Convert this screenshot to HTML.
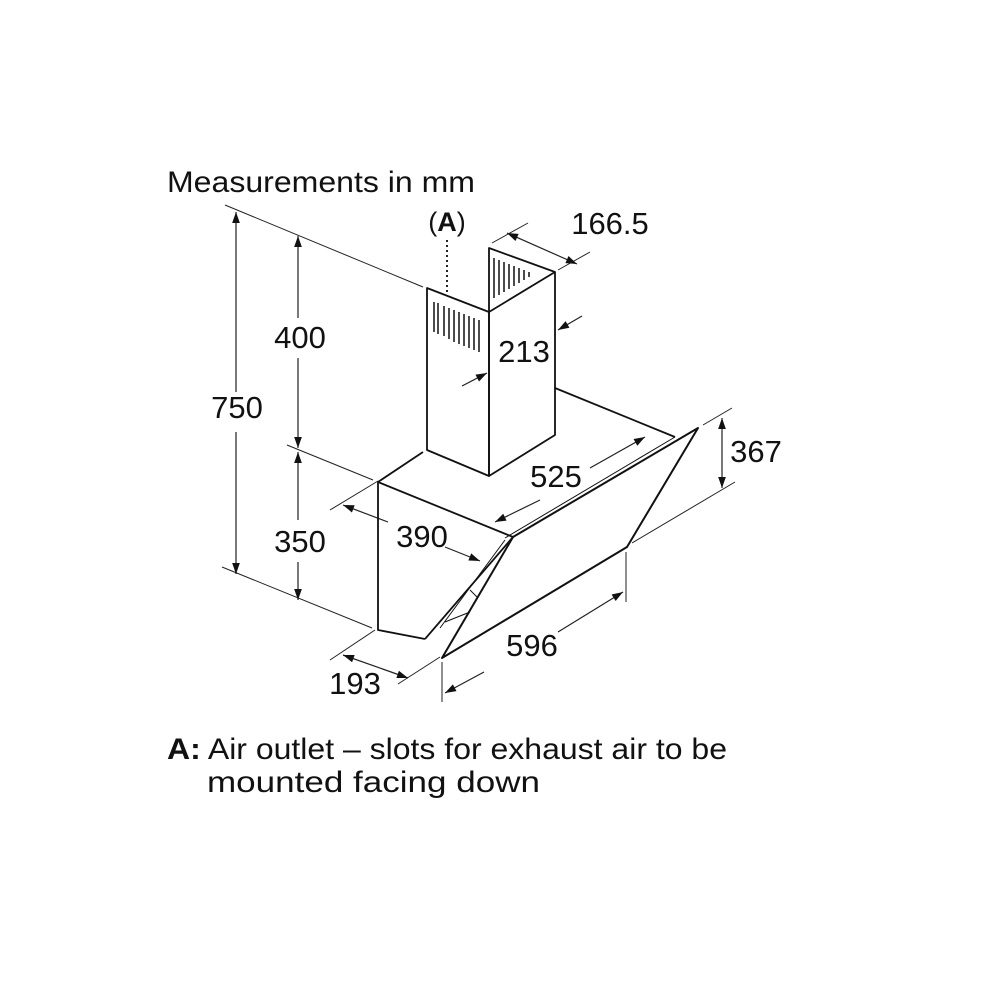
<!DOCTYPE html>
<html><head><meta charset="utf-8"><style>
html,body{margin:0;padding:0;background:#fff;}
svg{display:block;}
text{font-family:"Liberation Sans",Arial,sans-serif;fill:#111;}
</style></head><body>
<svg width="1000" height="1000" viewBox="0 0 1000 1000" xmlns="http://www.w3.org/2000/svg">
<defs>
<marker id="ar" viewBox="0 0 10 10" refX="10" refY="5" markerWidth="16" markerHeight="11" orient="auto-start-reverse" markerUnits="userSpaceOnUse">
<path d="M0,1.5 L10,5 L0,8.5 z" fill="#111"/></marker>
</defs>
<text x="167" y="192" font-size="30" textLength="308" lengthAdjust="spacingAndGlyphs">Measurements in mm</text>

<g stroke="#222" stroke-width="1" fill="none">
<line x1="225" y1="205" x2="423" y2="287"/>
<line x1="287" y1="445" x2="373" y2="480"/>
<line x1="222" y1="567" x2="372" y2="628"/>
<line x1="330" y1="510" x2="378" y2="481"/>
<line x1="330" y1="660" x2="375" y2="630"/>
<line x1="398" y1="684" x2="440" y2="657"/>
<line x1="442" y1="662" x2="442" y2="702"/>
<line x1="626" y1="552" x2="626" y2="602"/>
<line x1="703" y1="425" x2="732" y2="408"/>
<line x1="632" y1="543" x2="735" y2="482"/>
<line x1="492" y1="243" x2="528" y2="223"/>
<line x1="558" y1="270" x2="590" y2="252"/>
</g>
<g stroke="#222" stroke-width="1.2" fill="none">
<line x1="236" y1="212" x2="236" y2="392" marker-start="url(#ar)"/>
<line x1="236" y1="432" x2="236" y2="574" marker-end="url(#ar)"/>
<line x1="298" y1="236" x2="298" y2="318" marker-start="url(#ar)"/>
<line x1="298" y1="358" x2="298" y2="448" marker-end="url(#ar)"/>
<line x1="298" y1="452" x2="298" y2="520" marker-start="url(#ar)"/>
<line x1="298" y1="562" x2="298" y2="600" marker-end="url(#ar)"/>
<line x1="722" y1="418" x2="722" y2="488" marker-start="url(#ar)" marker-end="url(#ar)"/>
<line x1="507" y1="233" x2="577" y2="264" marker-start="url(#ar)" marker-end="url(#ar)"/>
<line x1="343" y1="655" x2="408" y2="678" marker-start="url(#ar)" marker-end="url(#ar)"/>
<line x1="445" y1="693" x2="484" y2="672" marker-start="url(#ar)"/>
<line x1="558" y1="632" x2="623" y2="592" marker-end="url(#ar)"/>
<line x1="343" y1="505" x2="388" y2="522" marker-start="url(#ar)"/>
<line x1="445" y1="547" x2="480" y2="561" marker-end="url(#ar)"/>
<line x1="590" y1="468" x2="645" y2="437" marker-end="url(#ar)"/>
<line x1="495" y1="522" x2="540" y2="500" marker-start="url(#ar)"/>
<line x1="582" y1="316" x2="558" y2="330" marker-end="url(#ar)"/>
<line x1="462" y1="386" x2="487" y2="373" marker-end="url(#ar)"/>
<line x1="447" y1="240" x2="447" y2="296" stroke-dasharray="2,3" stroke-width="2"/>
</g>

<g stroke="#111" stroke-width="1.8" fill="none" stroke-linejoin="round">
<polygon points="427,288 489,312 489,476 427,450"/>
<polygon points="489,248 555,272 555,435 489,476 489,312"/>
<line x1="489" y1="312" x2="555" y2="272"/>
<polyline points="423,452 378,482 378,630 425,639"/>
<line x1="378" y1="482" x2="513" y2="537"/>
<polyline points="555,388 675,437"/>
<polygon points="513,537 698,428 627,547 442,658" stroke-width="2"/>
<line x1="513" y1="537" x2="425" y2="639"/>
<line x1="505" y1="538" x2="675" y2="437" stroke-width="1"/>
<line x1="505" y1="540" x2="440" y2="628" stroke-width="1"/>
<line x1="470" y1="590" x2="478" y2="598" stroke-width="1"/>
<line x1="445" y1="622" x2="470" y2="612" stroke-width="1"/>
</g>
<g stroke="#111" stroke-width="1.5">
<line x1="434" y1="302" x2="434" y2="332"/><line x1="438" y1="303" x2="438" y2="334"/>
<line x1="444" y1="306" x2="444" y2="336"/><line x1="449" y1="308" x2="449" y2="339"/>
<line x1="454" y1="310" x2="454" y2="342"/><line x1="459" y1="312" x2="459" y2="344"/>
<line x1="464" y1="314" x2="464" y2="346"/><line x1="469" y1="316" x2="469" y2="348"/>
<line x1="474" y1="318" x2="474" y2="350"/><line x1="479" y1="320" x2="479" y2="352"/>
<line x1="494" y1="258" x2="494" y2="298"/><line x1="499" y1="260" x2="499" y2="295"/>
<line x1="504" y1="262" x2="504" y2="292"/><line x1="509" y1="264" x2="509" y2="289"/>
<line x1="514" y1="266" x2="514" y2="286"/><line x1="519" y1="268" x2="519" y2="283"/>
<line x1="524" y1="270" x2="524" y2="280"/><line x1="529" y1="272" x2="529" y2="277"/>
</g>

<g font-size="31" text-anchor="middle">
<text x="447" y="231" font-size="27">(<tspan font-weight="bold">A</tspan>)</text>
<text x="610" y="234">166.5</text>
<text x="300" y="348">400</text>
<text x="524" y="362">213</text>
<text x="237" y="418">750</text>
<text x="756" y="462">367</text>
<text x="556" y="487">525</text>
<text x="422" y="547">390</text>
<text x="300" y="552">350</text>
<text x="532" y="656">596</text>
<text x="355" y="694">193</text>
</g>
<g font-size="30">
<text x="167" y="759" textLength="560" lengthAdjust="spacingAndGlyphs"><tspan font-weight="bold">A:</tspan> Air outlet – slots for exhaust air to be</text>
<text x="207" y="792" textLength="333" lengthAdjust="spacingAndGlyphs">mounted facing down</text>
</g>
</svg>
</body></html>
